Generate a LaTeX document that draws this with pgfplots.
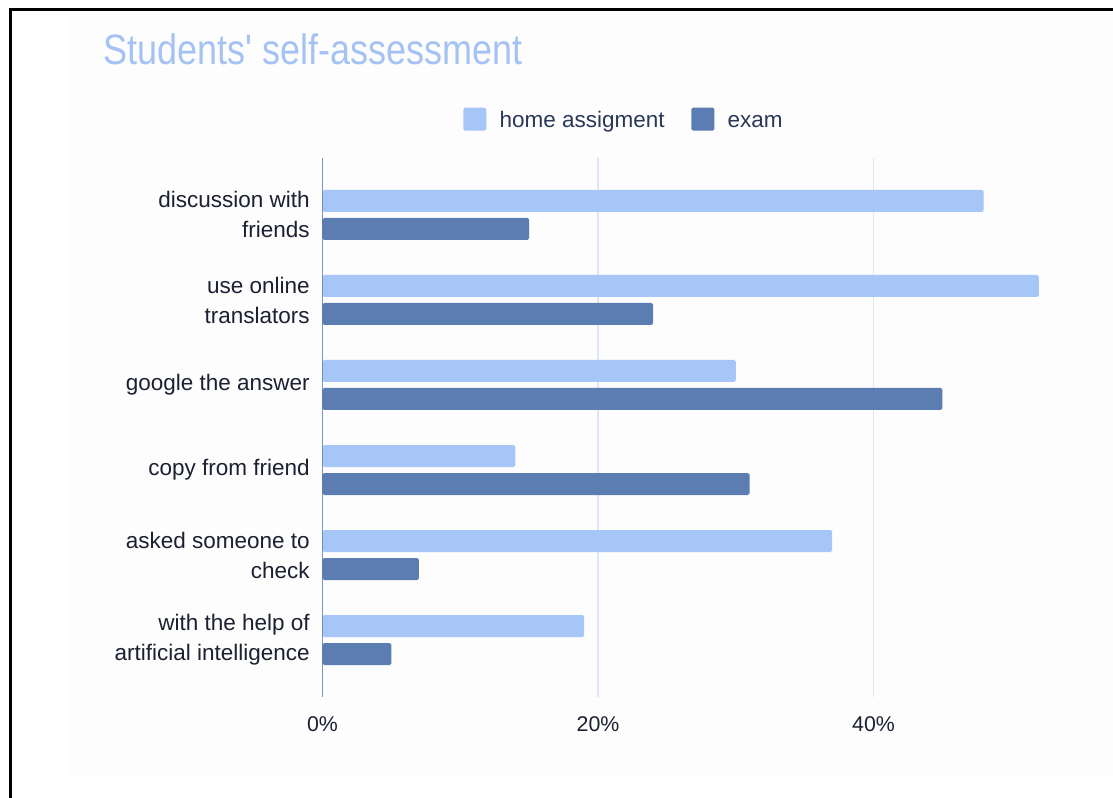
\documentclass[border=0pt]{standalone}
\usepackage{pgfplots}
\pgfplotsset{compat=1.18}
\usepackage{fontspec}
\setmainfont{Liberation Sans}[Ligatures=TeXOff]
\definecolor{homec}{HTML}{A7C6F8}
\definecolor{examc}{HTML}{5B7DB1}
\definecolor{titlec}{HTML}{A4C2F4}
\definecolor{gridc}{HTML}{DCE6F8}
\definecolor{axisc}{HTML}{4A679E}
\definecolor{labc}{HTML}{1C2030}
\definecolor{legc}{HTML}{2A3858}
\definecolor{bgc}{HTML}{FDFDFD}
\begin{document}
\begin{tikzpicture}
\path[use as bounding box] (0pt,0pt) rectangle (667.8pt,-478.8pt);
\fill[bgc] (40.8pt,-7.2pt) rectangle (667.8pt,-466.2pt);
\draw[black, line width=1.8pt] (6pt,-478.8pt) -- (6pt,-6pt) -- (667.8pt,-6pt);
\node[anchor=base west, inner sep=0pt, text=titlec, font=\fontsize{21.6}{24}\selectfont] at (61.8pt,-39pt) {\scalebox{1}[1.18]{Students' self-assessment}};
\begin{axis}[
  at={(193.5pt,-418.2pt)}, anchor=south west,
  scale only axis, width=445.5pt, height=323.4pt,
  xbar, xmin=0, xmax=53.9, ymin=-0.67, ymax=5.67,
  bar width=13.2pt,
  axis line style={draw=none},
  xtick={0,20,40}, xticklabels={0\%,20\%,40\%},
  xmajorgrids, major grid style={gridc, line width=0.8pt},
  ytick={0,1,2,3,4,5},
  yticklabels={{with the help of\\artificial intelligence},{asked someone to\\check},{copy from friend},{google the answer},{use online\\translators},{discussion with\\friends}},
  major tick length=0pt,
  yticklabel style={align=right, inner sep=0pt, xshift=-7.5pt, text=labc, font=\fontsize{13.5}{18}\selectfont},
  xticklabel style={inner sep=0pt, yshift=-11.5pt, text=labc, font=\fontsize{12.8}{15}\selectfont},
  legend style={at={(0.407,1.072)}, anchor=center, legend columns=2, draw=none, fill=none,
    font=\fontsize{13.5}{16}\selectfont, text=legc,
    /tikz/every odd column/.append style={column sep=6pt},
    /tikz/every even column/.append style={column sep=14pt},
    nodes={inner sep=2pt}},
  legend image code/.code={\fill[#1] (0pt,-6.9pt) rectangle (13.8pt,6.9pt);},
]
\addplot[fill=homec, draw=none, bar shift=8.4pt, rounded corners=1pt] coordinates {(48,5) (52,4) (30,3) (14,2) (37,1) (19,0)};
\addlegendentry{home assigment\strut}
\addplot[fill=examc, draw=none, bar shift=-8.4pt, rounded corners=1pt] coordinates {(15,5) (24,4) (45,3) (31,2) (7,1) (5,0)};
\addlegendentry{exam\strut}
\draw[axisc, line width=1pt] (axis cs:0,-0.67) -- (axis cs:0,5.67);
\end{axis}
\end{tikzpicture}
\end{document}
